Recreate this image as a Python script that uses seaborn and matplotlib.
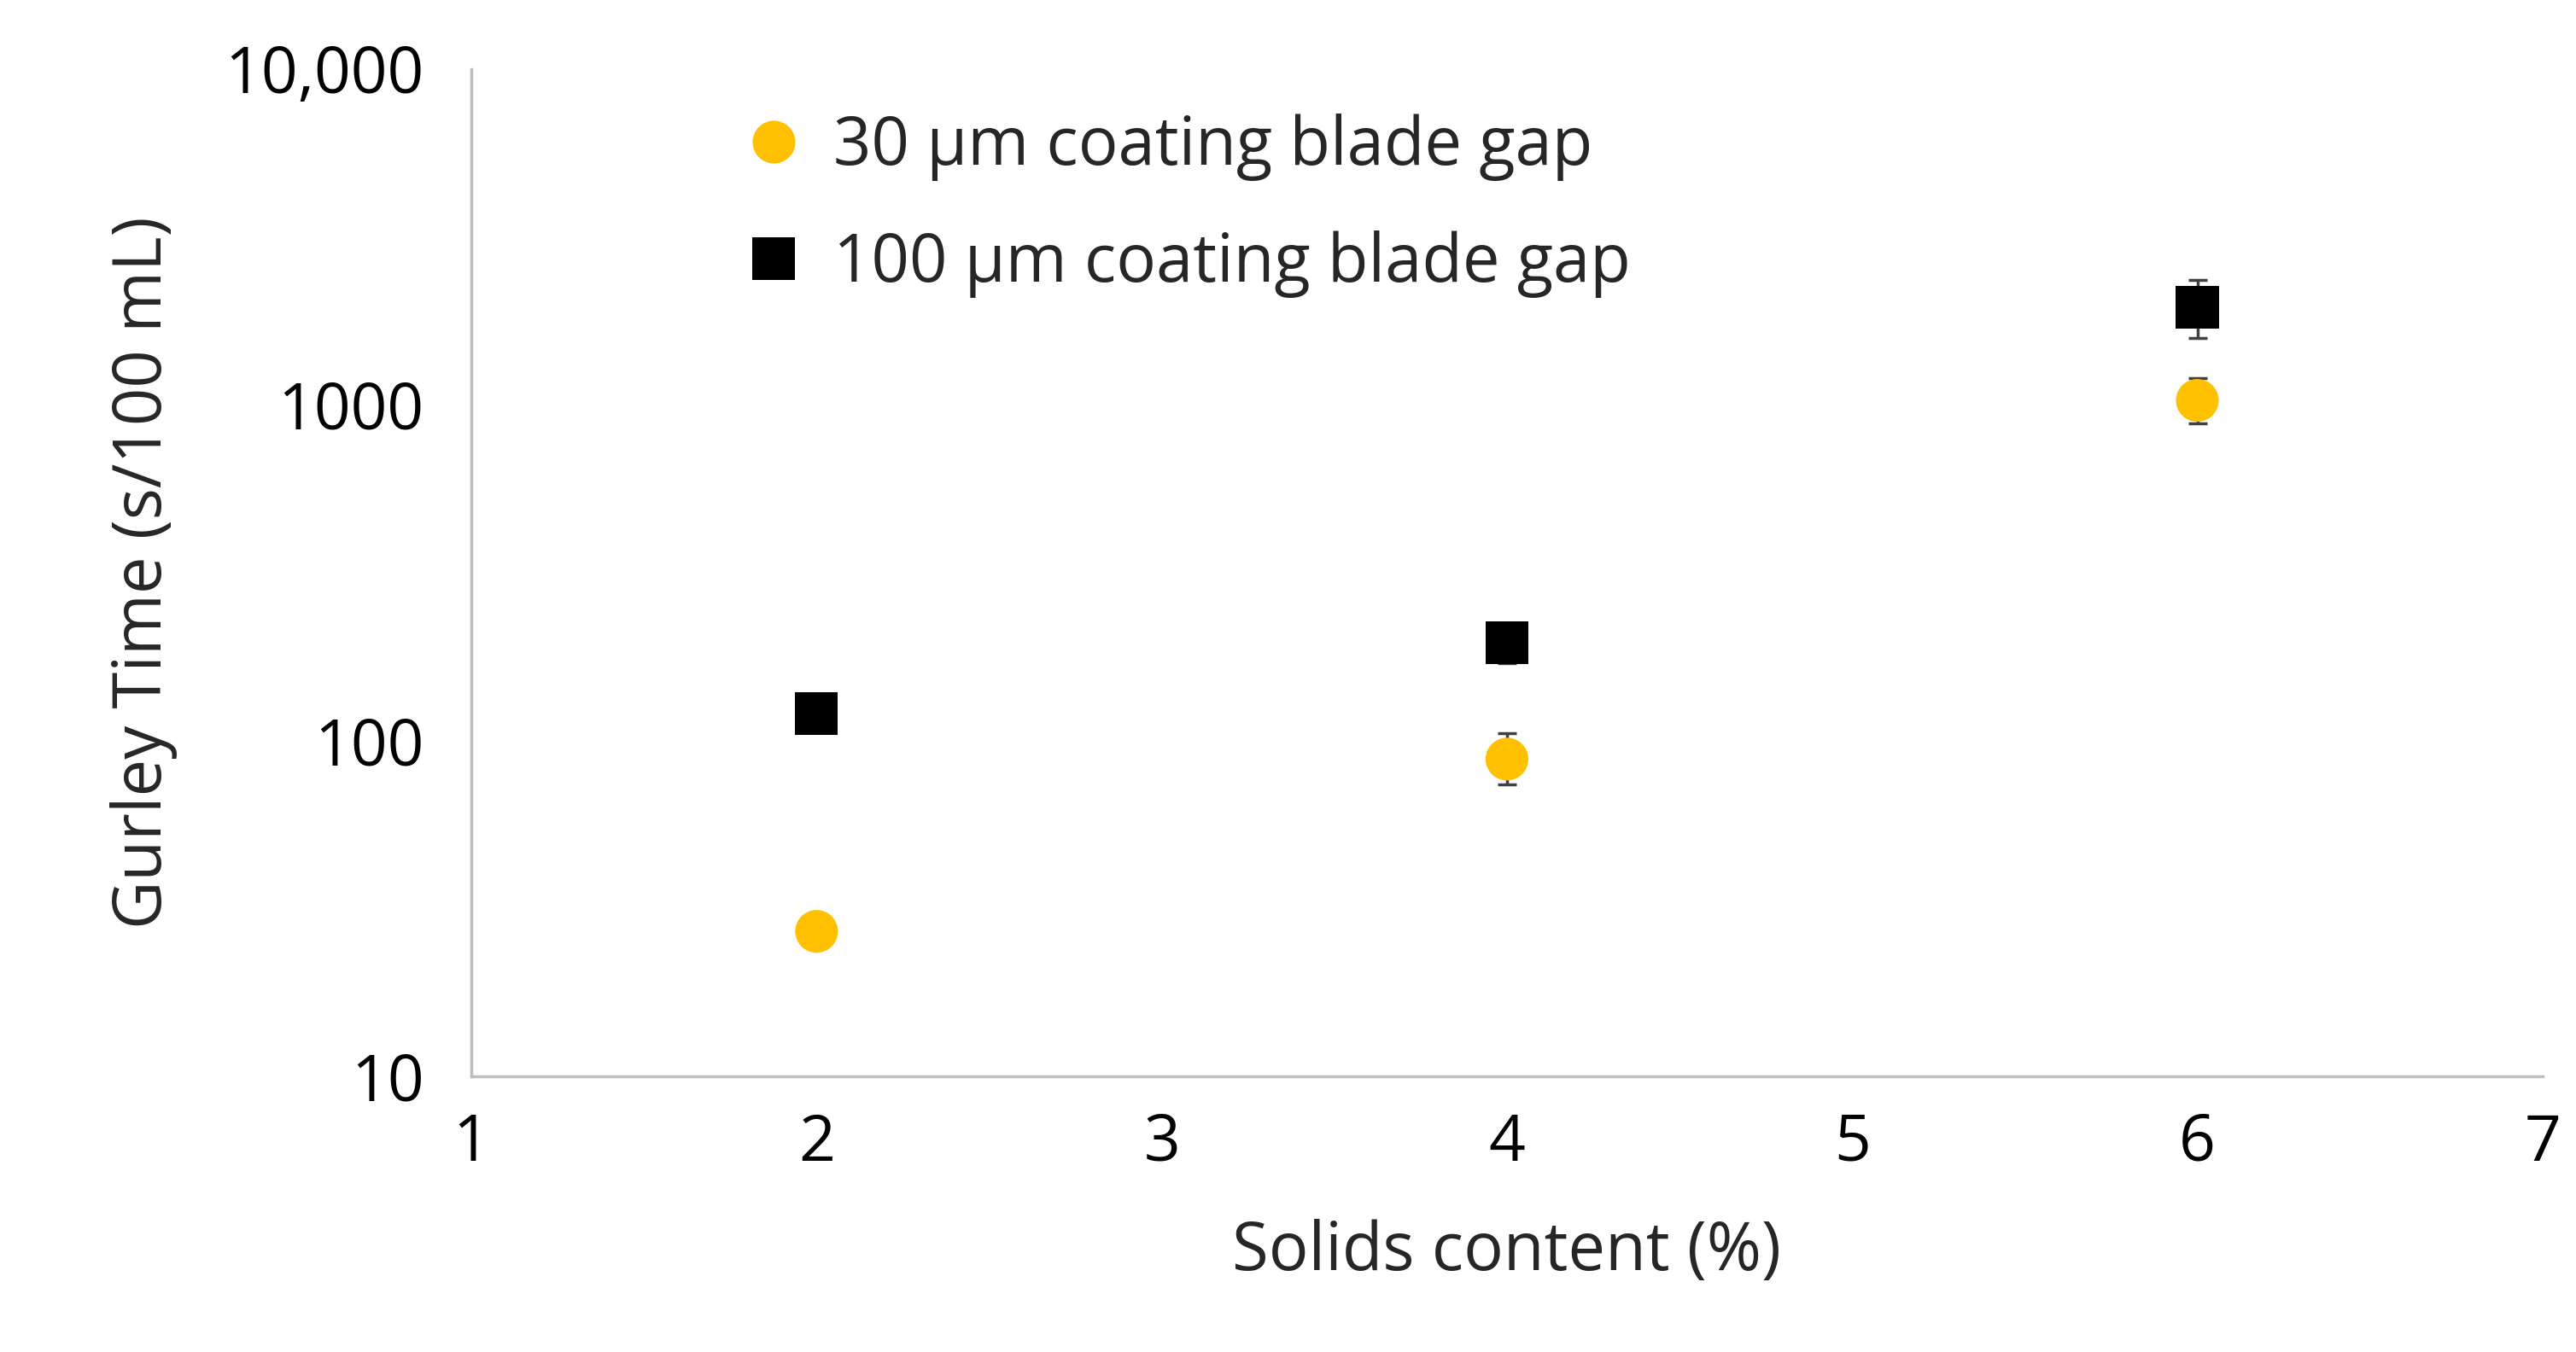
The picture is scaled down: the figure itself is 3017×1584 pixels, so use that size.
import matplotlib
matplotlib.use("Agg")
import matplotlib.pyplot as plt
import seaborn as sns
import pandas as pd
import numpy as np

solids = [2, 4, 6]
gap30 = [27, 88, 1030]
gap30_lo = [27, 74, 880]
gap30_hi = [27, 105, 1200]
gap100 = [120, 195, 1950]
gap100_lo = [120, 170, 1580]
gap100_hi = [120, 215, 2350]
labels = ["30 µm coating blade gap", "100 µm coating blade gap"]

sns.set_theme(style="white")
plt.rcParams['font.family'] = ['Open Sans', 'DejaVu Sans']

df = pd.DataFrame({
    "x": solids * 2,
    "y": gap30 + gap100,
    "series": [labels[0]] * 3 + [labels[1]] * 3,
})

fig = plt.figure(figsize=(30.17, 15.84), dpi=100)
ax = fig.add_axes([0.183, 0.204, 0.804, 0.745])

for vals, lo, hi in [(gap30, gap30_lo, gap30_hi), (gap100, gap100_lo, gap100_hi)]:
    v = np.array(vals); yerr = [v - np.array(lo), np.array(hi) - v]
    ax.errorbar(solids, vals, yerr=yerr, fmt="none", ecolor="#404040", elinewidth=2.5, capsize=8, capthick=2.5, zorder=1)

sns.scatterplot(data=df, x="x", y="y", hue="series", style="series",
                palette={labels[0]: "#FFC000", labels[1]: "#000000"},
                markers={labels[0]: "o", labels[1]: "s"},
                s=1300, edgecolor="none", ax=ax, zorder=3)

ax.set_yscale("log")
ax.set_xlim(1, 7)
ax.set_ylim(10, 10000)
ax.set_xticks([1, 2, 3, 4, 5, 6, 7])
ax.set_yticks([10, 100, 1000, 10000])
ax.set_yticklabels(["10", "100", "1000", "10,000"])
ax.minorticks_off()
ax.tick_params(axis="both", labelsize=54, colors="#000000")
ax.tick_params(axis="x", direction="out", length=12, width=2, color="#BFBFBF", pad=18)
ax.tick_params(axis="y", length=0, pad=40)
for s in ["top", "right"]:
    ax.spines[s].set_visible(False)
for s in ["left", "bottom"]:
    ax.spines[s].set_color("#BFBFBF")
    ax.spines[s].set_linewidth(2.5)
ax.set_xlabel("Solids content (%)", fontsize=56, labelpad=36)
ax.set_ylabel("Gurley Time (s/100 mL)", fontsize=56, labelpad=40)

leg = ax.legend(loc="upper left", bbox_to_anchor=(0.085, 1.015), frameon=False,
                fontsize=56, markerscale=1.0, handletextpad=-0.1, labelspacing=0.75)
ax.grid(False)
fig.savefig("out.png", dpi=100)
